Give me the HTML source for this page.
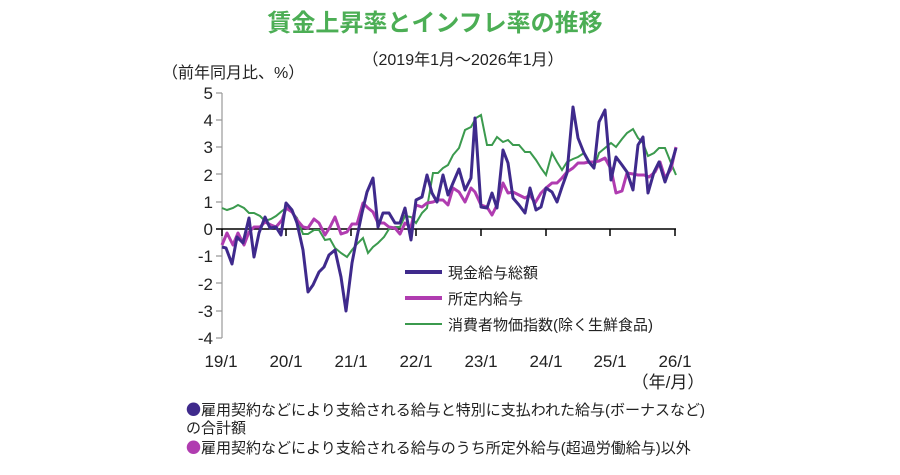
<!DOCTYPE html>
<html><head><meta charset="utf-8"><style>
body{margin:0;background:#fff;}
svg text{font-family:"Liberation Sans","Noto Sans CJK JP",sans-serif;fill:#222;}
</style></head><body>
<svg width="900" height="470" viewBox="0 0 900 470" xmlns="http://www.w3.org/2000/svg">
<text x="435" y="31" text-anchor="middle" font-size="24" style="fill:#4cae55;font-weight:bold">賃金上昇率とインフレ率の推移</text>
<text x="463" y="65" text-anchor="middle" font-size="16">（2019年1月～2026年1月）</text>
<text x="162" y="78" font-size="16">（前年同月比、%）</text>
<g font-size="17" text-anchor="end">
<text x="213" y="99">5</text><text x="213" y="126">4</text><text x="213" y="153">3</text><text x="213" y="181">2</text><text x="213" y="208">1</text><text x="213" y="235">0</text><text x="213" y="262">-1</text><text x="213" y="290">-2</text><text x="213" y="317">-3</text><text x="213" y="344">-4</text>
</g>
<g stroke="#999" stroke-width="1.2" fill="none">
<line x1="222" y1="93" x2="222" y2="338"/>
<path d="M216 93H222M216 120H222M216 147H222M216 174H222M216 202H222M216 256H222M216 283H222M216 311H222M216 338H222"/>
</g>
<g stroke="#000" stroke-width="1.5" fill="none">
<line x1="216" y1="229" x2="676" y2="229"/>
<path d="M222 229V236M286 229V236M351 229V236M416 229V236M481 229V236M546 229V236M610 229V236M675 229V236"/>
</g>
<g font-size="17" text-anchor="middle">
<text x="221" y="367">19/1</text><text x="286" y="367">20/1</text><text x="351" y="367">21/1</text><text x="416" y="367">22/1</text><text x="481" y="367">23/1</text><text x="546" y="367">24/1</text><text x="610" y="367">25/1</text><text x="675" y="367">26/1</text>
<text x="668" y="388">（年/月）</text>
</g>
<polyline fill="none" stroke="#3b9a4e" stroke-width="2" points="222,208 227,210 233,208 238,205 244,208 249,213 254,213 260,216 265,221 271,219 276,216 282,211 286,208 292,212 297,218 303,234 308,234 314,230 319,230 325,240 330,239 335,248 341,253 347,257 352,250 357,244 363,238 368,253 373,247 378,243 384,237 389,229 395,227 400,227 405,216 411,217 416,223 422,213 427,208 433,173 438,173 443,168 448,165 453,155 459,148 465,130 471,127 476,118 481,115 487,145 492,145 497,137 503,142 508,140 513,145 519,145 525,152 530,152 536,160 541,168 546,175 552,153 557,162 562,170 567,162 573,159 578,157 584,153 589,162 594,168 599,153 605,148 611,143 616,147 622,139 627,133 633,129 638,138 643,143 648,156 654,153 659,148 665,148 671,163 676,175"/>
<polyline fill="none" stroke="#b03cb0" stroke-width="3" stroke-linejoin="round" points="222,245 227,233 233,245 238,233 244,245 249,232 254,227 260,227 265,222 271,225 276,227 282,220 286,208 292,212 297,220 303,227 308,228 314,219 319,223 325,235 330,227 335,217 341,234 347,232 352,224 357,224 363,203 368,208 373,212 378,223 384,223 389,227 395,228 400,234 405,223 411,227 416,205 422,207 427,203 433,202 438,200 443,200 448,205 453,188 459,192 465,202 471,188 475,192 481,205 487,207 492,215 497,205 503,183 508,193 513,192 519,195 525,198 530,195 535,203 541,193 546,188 552,183 557,183 562,178 567,172 573,168 578,163 584,163 589,162 594,162 599,161 605,158 611,169 616,193 622,191 627,173 633,174 638,175 644,175 649,177 655,172 660,162 665,178 671,169 676,147"/>
<polyline fill="none" stroke="#3f2a8c" stroke-width="3" stroke-linejoin="round" points="222,247 226,248 232,264 237,237 243,243 249,218 254,257 259,233 265,217 270,228 276,227 281,235 286,203 292,210 297,223 303,250 308,292 313,285 319,272 324,267 329,255 335,250 341,277 346,311 352,263 357,237 362,213 367,192 373,178 378,227 383,213 389,213 395,223 400,223 405,208 411,240 416,200 422,197 427,175 432,193 437,202 443,175 448,195 453,183 459,169 465,190 471,178 475,118 481,207 487,208 492,193 497,208 503,150 508,163 513,198 519,205 525,213 530,188 536,210 541,207 546,188 552,192 557,202 562,187 567,173 573,107 578,138 584,153 589,162 594,168 599,122 605,110 611,180 616,157 622,165 627,172 633,190 638,145 643,137 648,193 654,172 659,162 665,182 671,165 676,148"/>
<g font-size="15">
<line x1="405" y1="272" x2="442" y2="272" stroke="#3f2a8c" stroke-width="4"/><text x="448" y="278">現金給与総額</text>
<line x1="405" y1="298" x2="442" y2="298" stroke="#b03cb0" stroke-width="4"/><text x="448" y="304">所定内給与</text>
<line x1="405" y1="324" x2="442" y2="324" stroke="#3b9a4e" stroke-width="2"/><text x="448" y="330">消費者物価指数(除く生鮮食品)</text>
</g>
<g font-size="15">
<text x="186" y="415"><tspan style="fill:#3f2a8c;font-family:'Noto Sans CJK JP',sans-serif">●</tspan>雇用契約などにより支給される給与と特別に支払われた給与(ボーナスなど)</text>
<text x="186" y="433">の合計額</text>
<text x="186" y="453"><tspan style="fill:#b03cb0;font-family:'Noto Sans CJK JP',sans-serif">●</tspan>雇用契約などにより支給される給与のうち所定外給与(超過労働給与)以外</text>
</g>
</svg>
</body></html>
